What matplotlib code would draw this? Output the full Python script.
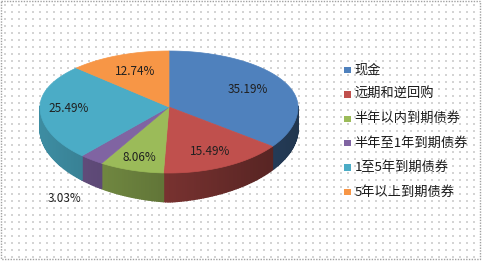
import numpy as np
import matplotlib
matplotlib.use("Agg")
import matplotlib.pyplot as plt
from matplotlib.patches import Polygon, Rectangle
from matplotlib.colors import to_rgb

plt.rcParams['font.family'] = ['Noto Sans CJK SC', 'DejaVu Sans']

categories = ["现金", "远期和逆回购", "半年以内到期债券", "半年至1年到期债券", "1至5年到期债券", "5年以上到期债券"]
shares = [35.19, 15.49, 8.06, 3.03, 25.49, 12.74]
colors = ["#4F81BD", "#C0504D", "#9BBB59", "#8064A2", "#4BACC6", "#F79646"]

W, H = 482, 261
fig = plt.figure(figsize=(W / 100, H / 100), dpi=100)
ax = fig.add_axes([0, 0, 1, 1])
ax.set_xlim(0, W)
ax.set_ylim(H, 0)
ax.axis("off")

# dotted background + frame
ax.add_patch(Rectangle((1, 1), W - 3, H - 3, facecolor="white", edgecolor="#A0A0A0",
                       linestyle=(0, (1, 1)), linewidth=1, zorder=0))
gx, gy = np.meshgrid(np.arange(5, W - 3, 7), np.arange(5, H - 3, 7))
ax.scatter(gx.ravel(), gy.ravel(), s=0.6, marker="s", color="#D4D4D4", linewidths=0, zorder=0.5)

# pie geometry (back half flatter than front half -> a bit of perspective)
cx, cy, rx, ry_back, ry_front, depth = 169, 107, 129, 56, 66, 29


def pt(a, r=1.0):
    a = np.asarray(a)
    ry = np.where(np.sin(a) > 0, ry_back, ry_front)
    return cx + rx * r * np.cos(a), cy - ry * r * np.sin(a)


fracs = np.array(shares) / sum(shares)
edges = np.pi / 2 - 2 * np.pi * np.concatenate([[0], np.cumsum(fracs)])

# side walls (front half only), shaded by angle
for i, col in enumerate(colors):
    a0, a1 = edges[i + 1], edges[i]
    angs = np.linspace(a0, a1, max(3, int(np.degrees(a1 - a0)) + 2))
    base = np.array(to_rgb(col))
    for s, e in zip(angs[:-1], angs[1:]):
        m = (s + e) / 2
        if np.sin(m) > 0.02:
            continue
        f = 0.62 - 0.2 * np.cos(m)
        c = np.clip(base * f, 0, 1)
        x0, y0 = pt(s)
        x1, y1 = pt(e)
        d0 = depth - 7 * abs(np.cos(s))
        d1 = depth - 7 * abs(np.cos(e))
        ax.add_patch(Polygon([(x0, y0), (x1, y1), (x1, y1 + d1), (x0, y0 + d0)],
                             closed=True, facecolor=c, edgecolor=c, linewidth=1.0, zorder=2))

# top faces
for i, col in enumerate(colors):
    angs = np.linspace(edges[i], edges[i + 1], 120)
    xs, ys = pt(angs)
    verts = [(cx, cy)] + list(zip(xs, ys))
    ax.add_patch(Polygon(verts, closed=True, facecolor=col, edgecolor=col, linewidth=0.5, zorder=3))

# value labels
label_r = [0.68, 0.75, 0.8, 1.0, 0.78, 0.68]
for i, v in enumerate(shares):
    m = (edges[i] + edges[i + 1]) / 2
    x, y = pt(m, label_r[i])
    if i == 3:
        x, y = 65, 199
    ax.text(x, y, f"{v:.2f}%", ha="center", va="center", fontsize=8.5, color="#202020", zorder=5)

# legend
lx, ly0, dy = 347.5, 70, 24.4
for i, (name, col) in enumerate(zip(categories, colors)):
    y = ly0 + i * dy
    ax.add_patch(Rectangle((lx - 3.2, y - 3.2), 6.4, 6.4, facecolor=col, edgecolor="none", zorder=5))
    ax.text(lx + 7, y, name, ha="left", va="center", fontsize=9.5, color="#1A1A1A", zorder=5)

fig.savefig("out.png", dpi=100)
